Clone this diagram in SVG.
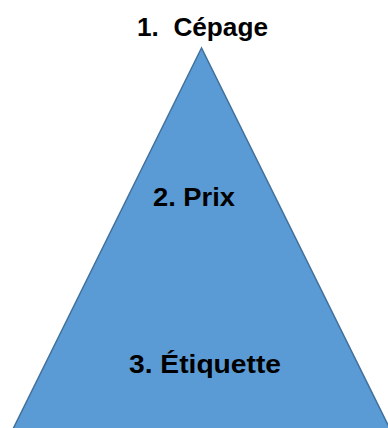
<svg xmlns="http://www.w3.org/2000/svg" width="388" height="428" viewBox="0 0 388 428">
<style>
.lbl{font-family:"Liberation Sans",Arial,sans-serif;font-weight:bold;font-size:25px;fill:#000;white-space:pre}
</style>
<rect width="388" height="428" fill="#fff"/>
<g id="pyramid">
<polygon points="201.5,48 13,429 390,429" fill="#5B9BD5" stroke="#41719C" stroke-width="1.5"/>
</g>
<g id="label1"><text class="lbl" x="137" y="36" textLength="131" lengthAdjust="spacingAndGlyphs" xml:space="preserve">1.  Cépage</text></g>
<g id="label2"><text class="lbl" x="153" y="206" textLength="82" lengthAdjust="spacingAndGlyphs">2. Prix</text></g>
<g id="label3"><text class="lbl" x="129" y="373" textLength="152" lengthAdjust="spacingAndGlyphs">3. Étiquette</text></g>
</svg>
